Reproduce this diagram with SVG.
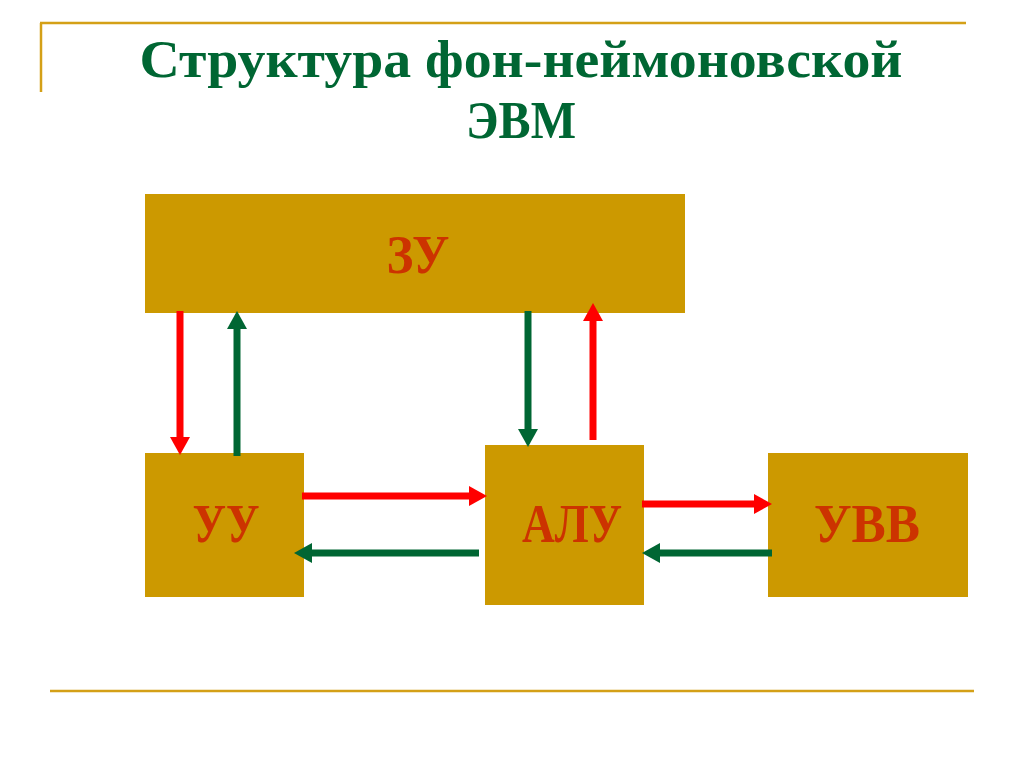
<svg xmlns="http://www.w3.org/2000/svg" width="1024" height="767" viewBox="0 0 1024 767">
<style>
.box{fill:#CC9900}
.lbl{font-family:"Liberation Serif","Times New Roman",serif;font-weight:bold;font-size:54px;fill:#CC3300;text-anchor:middle}
.title{font-family:"Liberation Serif","Times New Roman",serif;font-weight:bold;font-size:52px;fill:#006633;text-anchor:middle}
.r{stroke:#FF0000;stroke-width:7;fill:none}
.g{stroke:#006633;stroke-width:7;fill:none}
.rule{stroke:#D4A017;stroke-width:2.5}
</style>
<defs>
<marker id="ar" viewBox="0 0 18 20" refX="0" refY="10" markerWidth="18" markerHeight="20" orient="auto" markerUnits="userSpaceOnUse"><path d="M0,0 L18,10 L0,20 z" fill="#FF0000"/></marker>
<marker id="ag" viewBox="0 0 18 20" refX="0" refY="10" markerWidth="18" markerHeight="20" orient="auto" markerUnits="userSpaceOnUse"><path d="M0,0 L18,10 L0,20 z" fill="#006633"/></marker>
</defs>
<rect width="1024" height="767" fill="#FFFFFF"/>
<g id="frame">
<line class="rule" x1="40" y1="23" x2="966" y2="23"/>
<line class="rule" x1="41" y1="23" x2="41" y2="92"/>
<line class="rule" x1="50" y1="691" x2="974" y2="691"/>
</g>
<g id="title">
<text class="title" x="521" y="77" textLength="763" lengthAdjust="spacingAndGlyphs">Структура фон-неймоновской</text>
<text class="title" x="521" y="138" textLength="110" lengthAdjust="spacingAndGlyphs">ЭВМ</text>
</g>
<g id="zu"><rect class="box" x="145" y="194" width="540" height="119"/><text class="lbl" x="418" y="273" textLength="63" lengthAdjust="spacingAndGlyphs">ЗУ</text></g>
<g id="uu"><rect class="box" x="145" y="453" width="159" height="144"/><text class="lbl" x="226" y="542" textLength="67" lengthAdjust="spacingAndGlyphs">УУ</text></g>
<g id="alu"><rect class="box" x="485" y="445" width="159" height="160"/><text class="lbl" x="572" y="542" textLength="100" lengthAdjust="spacingAndGlyphs">АЛУ</text></g>
<g id="uvv"><rect class="box" x="768" y="453" width="200" height="144"/><text class="lbl" x="867" y="542" textLength="106" lengthAdjust="spacingAndGlyphs">УВВ</text></g>
<g id="connectors">
<line class="r" x1="180" y1="311" x2="180" y2="437" marker-end="url(#ar)"/>
<line class="g" x1="237" y1="456" x2="237" y2="329" marker-end="url(#ag)"/>
<line class="g" x1="528" y1="311" x2="528" y2="429" marker-end="url(#ag)"/>
<line class="r" x1="593" y1="440" x2="593" y2="321" marker-end="url(#ar)"/>
<line class="r" x1="302" y1="496" x2="469" y2="496" marker-end="url(#ar)"/>
<line class="g" x1="479" y1="553" x2="312" y2="553" marker-end="url(#ag)"/>
<line class="r" x1="642" y1="504" x2="754" y2="504" marker-end="url(#ar)"/>
<line class="g" x1="772" y1="553" x2="660" y2="553" marker-end="url(#ag)"/>
</g>
</svg>
